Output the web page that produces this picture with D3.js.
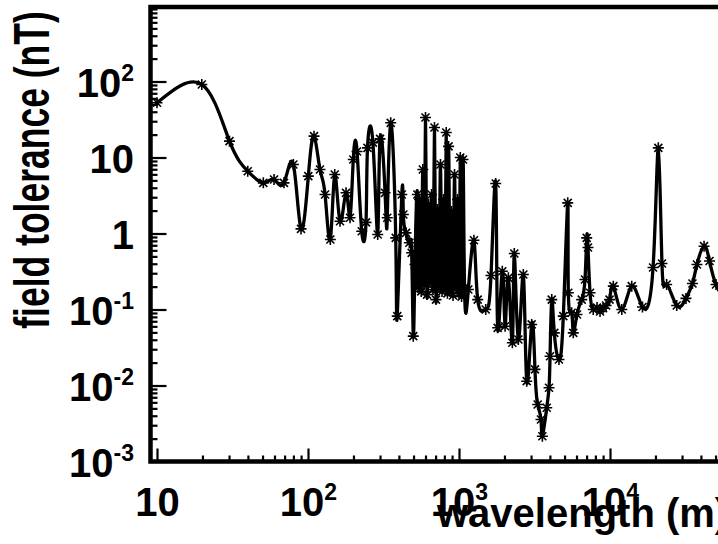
<!DOCTYPE html>
<html>
<head>
<meta charset="utf-8">
<script src="https://cdn.jsdelivr.net/npm/d3@7"></script>
<style>
  html, body { margin: 0; padding: 0; background: #fff; }
  svg { display: block; }
  text { font-family: "Liberation Sans", Arial, Helvetica, sans-serif; font-weight: bold; fill: #000; }
</style>
</head>
<body>
<svg id="chart" width="718" height="544"></svg>
<script>
// ---- data ----
const wavelength = [
  10, 19.8, 30.2, 39.9, 50.6, 59.6, 69.3, 80.0, 89.9, 100.5,
  109.6, 120, 129.7, 140.6, 150.3, 162.9, 178.6, 189.8, 199.5, 211.3,
  226.9, 242.2, 247.8, 269, 289.5, 300, 323.9, 335, 353, 381,
  390, 418, 428, 446, 469, 486, 498, 511, 530,
  535, 548, 562, 576, 587, 600, 614, 628, 643, 658,
  673, 688, 704, 720, 737, 754, 772, 790, 808, 823,
  838, 853, 872, 892, 913, 934, 955, 977, 1000, 1020,
  1040, 1063, 1088, 1153,
  1256, 1330, 1503, 1629, 1750, 1803, 1935, 2019, 2123, 2256,
  2324, 2472, 2667, 2808, 3029, 3185, 3320, 3491, 3565, 3811,
  3946, 4009, 4113, 4277, 4592, 4907, 5248, 5297, 5574, 5712,
  6042, 6497, 6829, 7010, 7150, 7376, 7747, 8204, 8590, 8995,
  9419, 9934, 10520, 11970, 13930, 16410, 19280, 20890, 22090, 23720,
  27660, 31850, 35160, 37670, 41970, 45620, 50350, 57800
];
const tolerance = [
  52.5, 91.4, 16.4, 6.6, 4.64, 5.14, 4.64, 8.09, 1.15, 5.68,
  19.1, 6.95, 3.26, 0.834, 5.97, 1.45, 3.43, 1.61, 9.42, 12.0,
  1.07, 1.40, 13.4, 15.7, 0.97, 17.6, 3.43, 1.61, 28.6, 0.877,
  0.0817, 3.26, 1.78, 1.02, 0.755, 0.557, 0.0446, 0.391, 3.26,
  0.195, 2.80, 0.173, 6.95, 0.213, 33.6, 0.157, 2.41, 0.226, 3.26,
  0.183, 24.8, 0.135, 2.07, 0.195, 8.09, 0.173, 2.80, 0.207, 21.3,
  0.163, 14.0, 0.183, 1.95, 0.153, 5.97, 0.195, 2.80, 0.163, 10.0,
  0.148, 9.42, 0.195, 0.183,
  0.816, 0.135, 0.1, 0.28, 4.55, 0.0574, 0.319, 0.0603, 0.261, 0.0365,
  0.546, 0.0403, 0.289, 0.0114, 0.0636, 0.0163, 0.00562, 0.00357, 0.00215, 0.00509,
  0.00933, 0.0243, 0.135, 0.0493, 0.022, 0.0817, 2.53, 0.166, 0.0906, 0.0493,
  0.0859, 0.135, 0.248, 0.877, 0.654, 0.166, 0.1, 0.106, 0.094, 0.104,
  0.113, 0.135, 0.203, 0.1, 0.203, 0.108, 0.357, 13.4, 0.403, 0.213,
  0.113, 0.14, 0.22, 0.391, 0.681, 0.434, 0.213, 0.135
];
const xTickValues = [10, 100, 1000, 10000];
const xTickLabels = [["10", ""], ["10", "2"], ["10", "3"], ["10", "4"]];
const yTickValues = [1e-3, 1e-2, 1e-1, 1, 10, 100];
const yTickLabels = [["10", "-3"], ["10", "-2"], ["10", "-1"], ["1", ""], ["10", ""], ["10", "2"]];
const xTitle = "wavelength (m)";
const yTitle = "field tolerance (nT)";

(function () {
  const W = 718, H = 544;
  const mLeft = 150.5, mTop = 7, mBottom = 461.5;
  const svg = d3.select("#chart");

  const x = d3.scaleLog().domain([10, 1e4]).range([157, 610]);
  const y = d3.scaleLog().domain([1e-3, 1e3]).range([461.5, 5.5]);

  const data = wavelength.map((w, i) => [w, tolerance[i]]);

  svg.append("defs").append("clipPath").attr("id", "plotclip")
    .append("rect").attr("x", mLeft).attr("y", mTop).attr("width", W - mLeft + 20).attr("height", mBottom - mTop);

  const plot = svg.append("g").attr("clip-path", "url(#plotclip)");

  const line = d3.line().x(d => x(d[0])).y(d => y(d[1])).curve(d3.curveNatural);
  plot.append("path").datum(data)
    .attr("d", line)
    .attr("fill", "none").attr("stroke", "#000").attr("stroke-width", 3.3).attr("stroke-linejoin", "round");

  const star = "M-5.5,0H5.5M0,-5.5V5.5M-4,-4L4,4M-4,4L4,-4";
  plot.append("g").selectAll("path").data(data).join("path")
    .attr("transform", d => `translate(${x(d[0])},${y(d[1])})`)
    .attr("d", star)
    .attr("fill", "none").attr("stroke", "#000").attr("stroke-width", 1.6);

  // ---- axes ----
  const xMinor = x.copy().domain([9, 1e5]).ticks().filter(v => !xTickValues.includes(v) && x(v) > mLeft + 2);
  const yMinor = y.ticks().filter(v => !yTickValues.includes(v) && v < 1000);

  const xAxisMinor = svg.append("g").attr("transform", `translate(0,${mBottom})`)
    .call(d3.axisBottom(x).tickValues(xMinor).tickSize(-6).tickFormat(() => ""));
  const xAxis = svg.append("g").attr("transform", `translate(0,${mBottom})`)
    .call(d3.axisBottom(x).tickValues(xTickValues).tickSize(-13).tickPadding(0).tickFormat(() => ""));
  const yAxisMinor = svg.append("g").attr("transform", `translate(${mLeft},0)`)
    .call(d3.axisLeft(y).tickValues(yMinor).tickSize(-7).tickFormat(() => ""));
  const yAxis = svg.append("g").attr("transform", `translate(${mLeft},0)`)
    .call(d3.axisLeft(y).tickValues(yTickValues).tickSize(-16).tickPadding(0).tickFormat(() => ""));

  [xAxisMinor, xAxis, yAxisMinor, yAxis].forEach(g => {
    g.select(".domain").remove();
    g.selectAll(".tick line").attr("stroke", "#000").attr("stroke-width", 2.2);
  });

  xAxis.selectAll(".tick text").each(function (d, i) {
    const t = d3.select(this).attr("y", 516 - mBottom).attr("dy", null)
      .attr("text-anchor", "middle").attr("fill", "#000").style("font-size", "40px")
      .style("font-family", "'Liberation Sans', Arial, sans-serif").style("font-weight", "bold");
    t.text(null);
    const lab = xTickLabels[i];
    t.append("tspan").text(lab[0]);
    if (lab[1]) t.append("tspan").attr("dy", -16).style("font-size", "23px").text(lab[1]);
  });

  yAxis.selectAll(".tick text").each(function (d, i) {
    const t = d3.select(this).attr("x", 134 - mLeft).attr("dy", null).attr("y", 15)
      .attr("text-anchor", "end").attr("fill", "#000").style("font-size", "40px")
      .style("font-family", "'Liberation Sans', Arial, sans-serif").style("font-weight", "bold");
    t.text(null);
    const lab = yTickLabels[i];
    t.append("tspan").text(lab[0]);
    if (lab[1]) t.append("tspan").attr("dy", -16).style("font-size", "23px").text(lab[1]);
  });

  svg.append("path")
    .attr("d", `M${W + 10},${mTop}H${mLeft}V${mBottom}H${W + 10}`)
    .attr("fill", "none").attr("stroke", "#000").attr("stroke-width", 4.5);

  svg.append("text").attr("x", 437).attr("y", 527)
    .style("font-size", "40px").text(xTitle);
  svg.append("text")
    .attr("transform", "translate(49,170) rotate(-90) scale(1,1.4)")
    .attr("text-anchor", "middle").style("font-size", "35.5px").text(yTitle);
})();
</script>
</body>
</html>
